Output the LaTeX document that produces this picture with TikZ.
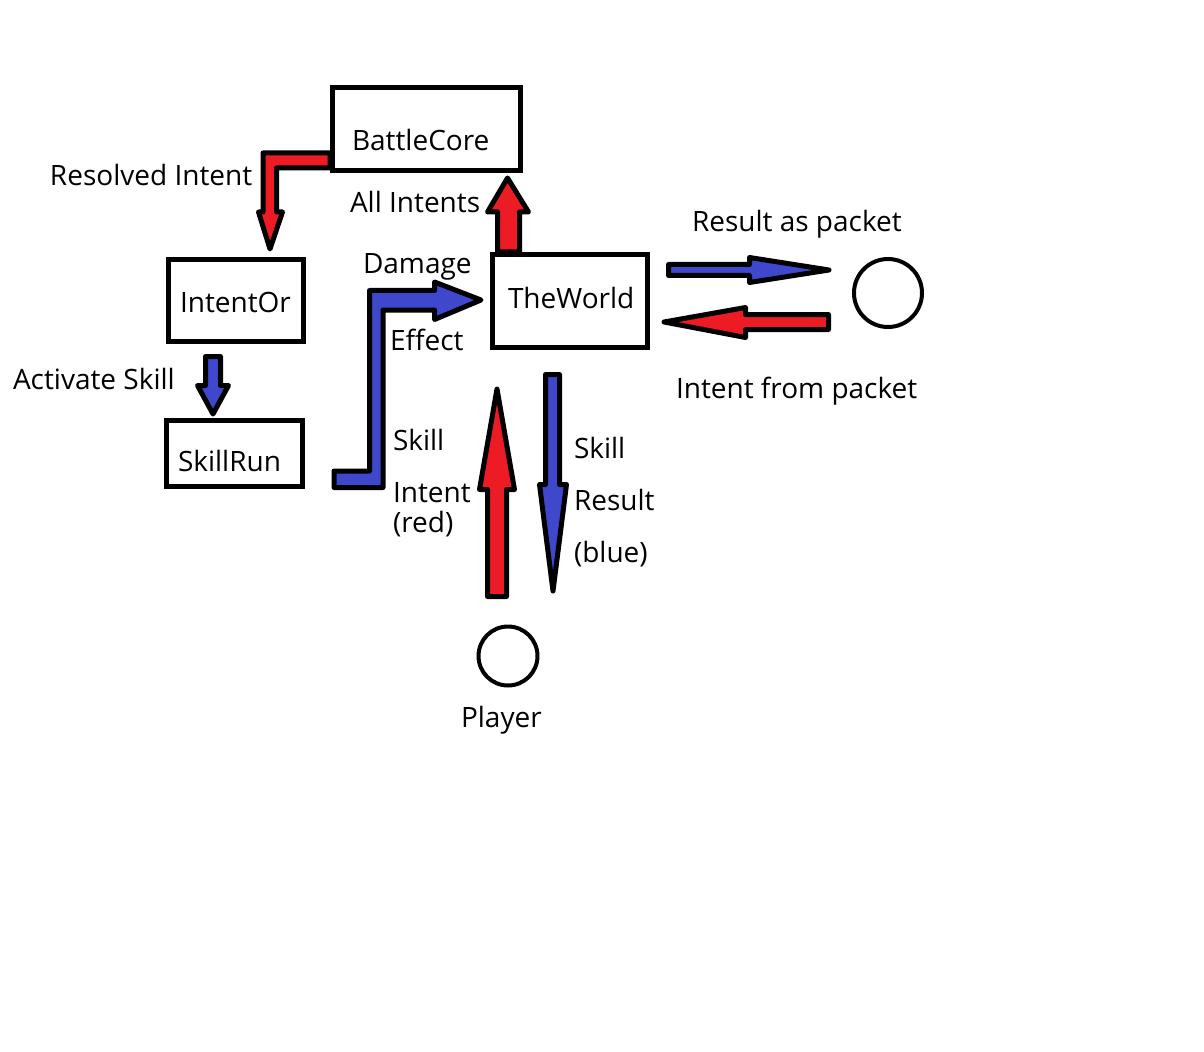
\documentclass[tikz,border=0pt]{standalone}
\usepackage{fontspec}
\setmainfont{Open Sans}
\definecolor{pred}{HTML}{ED1C24}
\definecolor{pblue}{HTML}{3F48CC}
\begin{document}
\begin{tikzpicture}[x=0.75pt,y=-0.75pt,
  box/.style={draw=black,line width=3.75pt,inner sep=0pt,outer sep=0pt,rectangle},
  lbl/.style={inner sep=0pt,outer sep=0pt,anchor=base west,font=\fontsize{21pt}{25pt}\selectfont},
  redarrow/.style={draw=black,fill=pred,line width=3.75pt,line join=round},
  bluearrow/.style={draw=black,fill=pblue,line width=3.75pt,line join=round},
  endpoint/.style={draw=black,line width=3pt,circle,inner sep=0pt,outer sep=0pt}]
\fill[white] (0,0) rectangle (1204,1052);
\useasboundingbox (0,0) rectangle (1204,1052);

% boxes
\node[box,minimum width=141pt,minimum height=62.25pt] (bc) at (426.5,129) {};
\node[box,minimum width=116.25pt,minimum height=69.75pt] (tw) at (570,301) {};
\node[box,minimum width=101.25pt,minimum height=61.5pt] (io) at (236,300.5) {};
\node[box,minimum width=102pt,minimum height=49.5pt] (sr) at (234.5,453.5) {};
\node[endpoint,minimum size=51pt] (net) at (888,293) {};
\node[endpoint,minimum size=44.25pt] (pl) at (508,656) {};

% box texts
\node[lbl] (tbc) at (352,151) {BattleCore};
\node[lbl] (ttw) at (508,309) {TheWorld};
\node[lbl] (tio) at (180,312) {IntentOr};
\node[lbl] (tsr) at (178,471) {SkillRun};

% arrows
\draw[redarrow] (330,153) -- (263,153) -- (263,212) -- (258.5,212) -- (270,249) -- (282.5,212) -- (276.5,212) -- (276.5,168) -- (330,168) -- cycle;
\draw[redarrow] (497.5,252) -- (497.5,212) -- (487.5,212) -- (507.5,178) -- (528.5,212) -- (519.5,212) -- (519.5,252) -- cycle;
\draw[bluearrow] (205.5,356.5) -- (220.5,356.5) -- (220.5,385.5) -- (228.5,385.5) -- (213,414) -- (197.5,385.5) -- (205.5,385.5) -- cycle;
\draw[bluearrow] (334,471) -- (369.5,471) -- (369.5,290.5) -- (434.5,290.5) -- (434.5,282) -- (481,300) -- (434.5,319.5) -- (434.5,310) -- (383,310) -- (383,487.5) -- (334,487.5) -- cycle;
\draw[redarrow] (487.5,596.5) -- (487.5,489.5) -- (479.5,489.5) -- (497,389) -- (514.5,489.5) -- (506.5,489.5) -- (506.5,596.5) -- cycle;
\draw[bluearrow] (545.5,374.5) -- (559.5,374.5) -- (559.5,484.5) -- (566.5,484.5) -- (553,591) -- (539.5,484.5) -- (545.5,484.5) -- cycle;
\draw[bluearrow] (668.5,264.5) -- (749.5,264.5) -- (749.5,257.5) -- (829,270) -- (749.5,282.5) -- (749.5,275.5) -- (668.5,275.5) -- cycle;
\draw[redarrow] (828.5,314.5) -- (745.5,314.5) -- (745.5,307.5) -- (664,322) -- (745.5,337.5) -- (745.5,329.5) -- (828.5,329.5) -- cycle;

% labels
\node[lbl] (l1) at (50,186) {Resolved Intent};
\node[lbl] (l2) at (350,213) {All Intents};
\node[lbl] (l3) at (13,389) {Activate Skill};
\node[lbl] (l4) at (363,273) {Damage};
\node[lbl] (l5) at (390,350) {Effect};
\node[lbl] (l6) at (393,450) {Skill};
\node[lbl] (l7) at (393,502) {Intent};
\node[lbl] (l8) at (393,532) {(red)};
\node[lbl] (l9) at (574,458) {Skill};
\node[lbl] (l10) at (574,510) {Result};
\node[lbl] (l11) at (574,562) {(blue)};
\node[lbl] (l12) at (692,232) {Result as packet};
\node[lbl] (l13) at (676,398) {Intent from packet};
\node[lbl] (l14) at (461,727) {Player};
\end{tikzpicture}
\end{document}
